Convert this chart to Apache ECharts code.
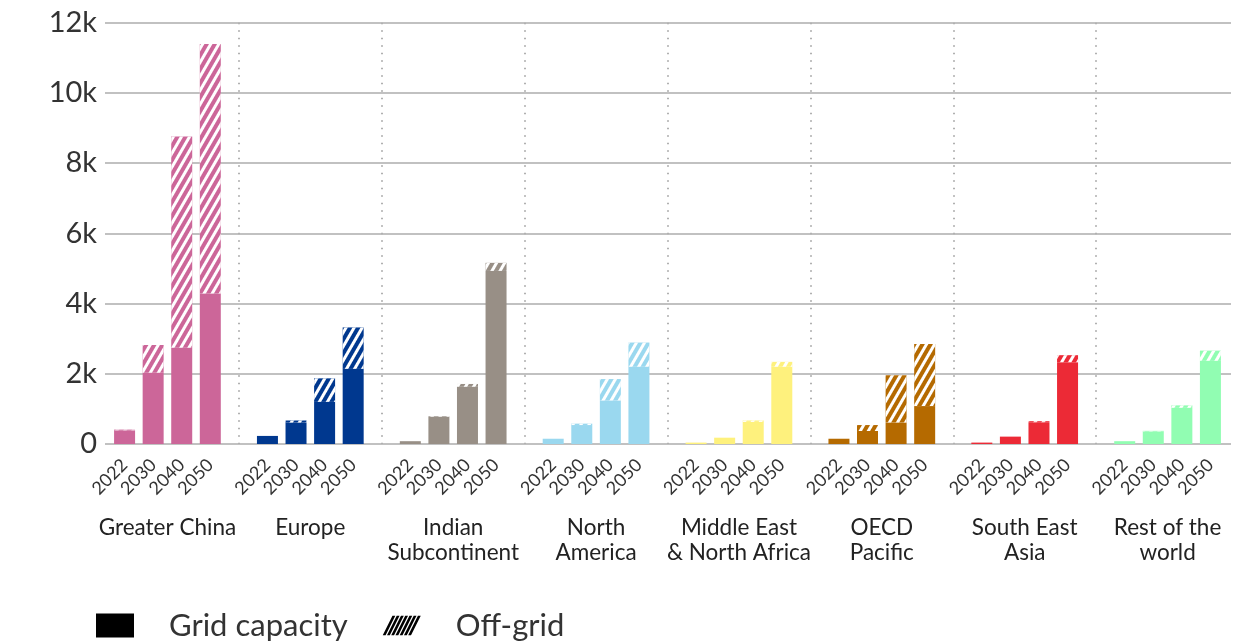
<!DOCTYPE html>
<html>
<head>
<meta charset="utf-8">
<script src="https://cdn.jsdelivr.net/npm/echarts@6/dist/echarts.min.js"></script>
<style>
  html, body { margin: 0; padding: 0; background: #fff; }
  #chart { width: 1258px; height: 643px; }
</style>
</head>
<body>
<div id="chart"></div>
<script>
// Regions, projection years and capacity values (thousands scale shown as "k")
const regions = [
  'Greater China', 'Europe', 'Indian\nSubcontinent', 'North\nAmerica',
  'Middle East\n& North Africa', 'OECD\nPacific', 'South East\nAsia', 'Rest of the\nworld'
];
const years = ['2022', '2030', '2040', '2050'];
const regionColors = ['#CC6699', '#00388F', '#988F86', '#9AD8EF', '#FEF17D', '#B56A00', '#EC2A36', '#91FDB2'];

// Grid-connected capacity per region, one value per year
const gridCapacity = [
  [390, 2030, 2740, 4290],
  [230, 610, 1200, 2140],
  [80, 770, 1630, 4930],
  [150, 540, 1240, 2200],
  [40, 180, 630, 2200],
  [150, 370, 610, 1080],
  [40, 210, 620, 2330],
  [80, 360, 1030, 2370]
];
// Off-grid capacity per region, one value per year
const offGrid = [
  [20, 790, 6020, 7100],
  [0, 60, 670, 1180],
  [0, 20, 80, 230],
  [0, 40, 610, 690],
  [0, 0, 40, 140],
  [0, 170, 1350, 1770],
  [0, 0, 30, 200],
  [0, 15, 70, 290]
];
const yTicks = ['0', '2k', '4k', '6k', '8k', '10k', '12k'];

const FONT = 'Lato, "Noto Sans", sans-serif';
const SLOTS = 5; // four bars plus one spacer per region group

// Slot axis: each region owns SLOTS slots, the first slot of each group is a spacer
const slotLabels = [];
for (let g = 0; g < regions.length; g++) {
  slotLabels.push('');
  years.forEach(y => slotLabels.push(y));
}
slotLabels.push('');

function barData(values) {
  const out = [null];
  values.forEach((row, g) => {
    row.forEach(v => out.push({ value: v, itemStyle: { color: regionColors[g] } }));
    out.push(null);
  });
  return out;
}

const hatchPath = 'path://M0 22 L3.2 22 L14.2 0 L11 0 Z M4.8 22 L8 22 L19 0 L15.8 0 Z M9.6 22 L12.8 22 L23.8 0 L20.6 0 Z M14.4 22 L17.6 22 L28.6 0 L25.4 0 Z M19.2 22 L22.4 22 L33.4 0 L30.2 0 Z M24 22 L27.2 22 L38.2 0 L35 0 Z M28.8 22 L32 22 L43 0 L39.8 0 Z';

const chart = echarts.init(document.getElementById('chart'), null, { renderer: 'canvas' });
chart.setOption({
  animation: false,
  backgroundColor: '#fff',
  grid: [
    { left: 96, right: 19, top: 22.7, bottom: 199 },
    { left: 105, right: 27, top: 22.7, bottom: 199 }
  ],
  xAxis: [
    {
      type: 'category', gridIndex: 0, data: slotLabels, boundaryGap: false,
      axisLine: { show: false }, axisTick: { show: false }, splitLine: { show: false },
      axisLabel: {
        interval: 0, rotate: 45, margin: 18, padding: [17, 0, 0, 0],
        fontFamily: FONT, fontSize: 18, color: '#333'
      }
    },
    {
      type: 'category', gridIndex: 0, data: regions, position: 'bottom',
      axisLine: { show: false }, axisTick: { show: false },
      axisLabel: { margin: 71, fontFamily: FONT, fontSize: 22.5, lineHeight: 25, color: '#222', interval: 0 },
      splitLine: {
        show: true, showMinLine: false, showMaxLine: false,
        lineStyle: { color: '#b0b0b0', width: 2, type: [1.5, 6] }
      }
    },
    { type: 'value', gridIndex: 1, show: false, min: 0, max: 1 }
  ],
  yAxis: [
    { type: 'value', gridIndex: 0, min: 0, max: 12000, interval: 2000, show: false },
    {
      type: 'value', gridIndex: 1, min: 0, max: 12000, interval: 2000,
      axisLine: { show: false }, axisTick: { show: false },
      axisLabel: {
        margin: 8, fontFamily: FONT, fontSize: 29, color: '#333',
        formatter: v => yTicks[v / 2000]
      },
      splitLine: { show: true, lineStyle: { color: '#adadad', width: 1.5 } }
    }
  ],
  legend: {
    left: 91, top: 605, itemWidth: 38, itemHeight: 24, itemGap: 35,
    textStyle: { fontFamily: FONT, fontSize: 31, color: '#333', padding: [0, 0, 0, 30] },
    data: [
      { name: 'Grid capacity', icon: 'rect', itemStyle: { color: '#000', decal: 'none' } },
      { name: 'Off-grid', icon: hatchPath, itemStyle: { color: '#000', decal: 'none' } }
    ]
  },
  series: [
    {
      name: 'Grid capacity', type: 'bar', stack: 'total', xAxisIndex: 0, yAxisIndex: 0,
      barWidth: 21, data: barData(gridCapacity)
    },
    {
      name: 'Off-grid', type: 'bar', stack: 'total', xAxisIndex: 0, yAxisIndex: 0,
      barWidth: 21, data: barData(offGrid),
      itemStyle: {
        decal: {
          symbol: 'rect', symbolSize: 1, color: '#ffffff',
          dashArrayX: [1, 0], dashArrayY: [2.7, 3.5], rotation: -Math.PI / 3
        }
      }
    }
  ]
});
</script>
</body>
</html>
